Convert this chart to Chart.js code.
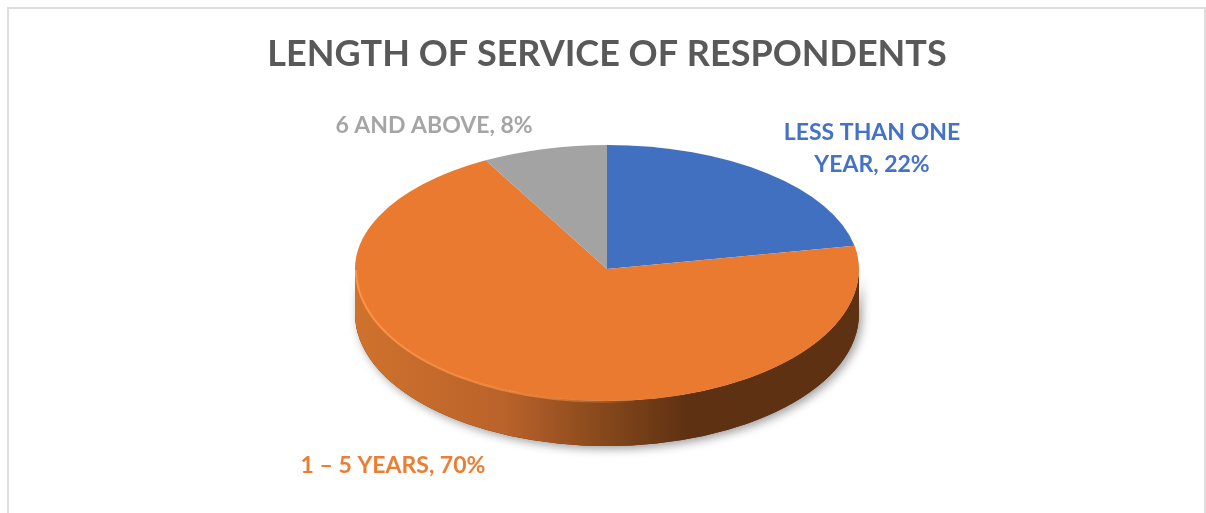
<!DOCTYPE html>
<html>
<head>
<meta charset="utf-8">
<title>Length of service of respondents</title>
<script src="https://cdn.jsdelivr.net/npm/chart.js@4"></script>
<style>
  html, body { margin: 0; background: #fff; overflow: hidden; }
  #wrap { position: relative; width: 1206px; height: 513px; overflow: hidden; }
  #frame { position: absolute; left: 7px; top: 7px; width: 1199px; height: 540px; border: 2px solid #dedede; box-sizing: border-box; }
  #pie { position: absolute; left: 0; top: 0; }
</style>
</head>
<body>
<div id="wrap">
  <div id="frame"></div>
  <canvas id="pie" width="1206" height="513"></canvas>
</div>
<script>
const chartTitle = 'LENGTH OF SERVICE OF RESPONDENTS';
const categories = ['LESS THAN ONE YEAR', '1 – 5 YEARS', '6 AND ABOVE'];
const values = [22, 70, 8];
const colors = ['#4270c0', '#e97a2f', '#a3a3a3'];
const textColors = ['#4472c4', '#ed7d31', '#a5a5a5'];

const FONT = 'Lato, "Open Sans", sans-serif';
const RADIUS = 252;
const TOP_RY = 124;     // back half of the tilted pie looks flatter than the front
const FRONT_RY = 132;
const DEPTH = 45;
// label centres relative to pie centre
const labelPos = [[265, -136], [-214, 197], [-173, -143]];

function topFace(ctx, arc, ry, top) {
  const seam = Math.round(arc.y); // whole pixel, or the two halves show a line
  ctx.save();
  ctx.beginPath();
  ctx.rect(0, top ? 0 : seam, 1206, top ? seam : 513 - seam);
  ctx.clip();
  ctx.translate(arc.x, arc.y);
  ctx.scale(1, ry / RADIUS);
  ctx.translate(-arc.x, -arc.y);
}

function sidePath(ctx, x, y) {
  ctx.beginPath();
  ctx.ellipse(x, y, RADIUS, FRONT_RY, 0, 0, Math.PI);
  ctx.lineTo(x - RADIUS, y + DEPTH);
  ctx.ellipse(x, y + DEPTH, RADIUS, FRONT_RY, 0, Math.PI, 0, true);
  ctx.closePath();
}

const pie3d = {
  id: 'pie3d',
  beforeDatasetsDraw(chart) {
    const ctx = chart.ctx;
    const arc = chart.getDatasetMeta(0).data[0];
    const x = arc.x, y = arc.y;

    // soft shadow under the disc
    ctx.save();
    ctx.shadowColor = 'rgba(0,0,0,0.38)';
    ctx.shadowBlur = 10;
    ctx.shadowOffsetX = 3;
    ctx.shadowOffsetY = 3;
    ctx.fillStyle = '#5e3112';
    sidePath(ctx, x, y);
    ctx.fill();
    ctx.restore();

    // wall
    const g = ctx.createLinearGradient(x - RADIUS, 0, x + RADIUS, 0);
    g.addColorStop(0, '#d0722d');
    g.addColorStop(0.3, '#b9622a');
    g.addColorStop(0.5, '#84471b');
    g.addColorStop(0.66, '#5e3112');
    g.addColorStop(1, '#5e3112');
    ctx.fillStyle = g;
    sidePath(ctx, x, y);
    ctx.fill();

    topFace(ctx, arc, TOP_RY, true);
  },
  afterDatasetsDraw(chart) {
    const ctx = chart.ctx;
    const meta = chart.getDatasetMeta(0);
    const arc = meta.data[0];
    ctx.restore();

    // front half of the face, with its own squash
    topFace(ctx, arc, FRONT_RY, false);
    meta.controller.draw();
    ctx.restore();

    // bevel highlight on the left rim
    const h = ctx.createLinearGradient(arc.x - RADIUS, 0, arc.x + 30, 0);
    h.addColorStop(0, 'rgba(255,150,75,0.9)');
    h.addColorStop(0.7, 'rgba(255,150,75,0.6)');
    h.addColorStop(1, 'rgba(255,150,75,0)');
    ctx.save();
    ctx.strokeStyle = h;
    ctx.lineWidth = 2;
    ctx.beginPath();
    ctx.ellipse(arc.x, arc.y + 1, RADIUS - 1, FRONT_RY, 0, Math.PI * 0.45, Math.PI);
    ctx.stroke();
    ctx.restore();

    // data labels
    ctx.save();
    ctx.font = 'bold 23px ' + FONT;
    ctx.textAlign = 'center';
    ctx.textBaseline = 'middle';
    categories.forEach((cat, i) => {
      const words = (cat + ', ' + values[i] + '%').split(' ');
      const lines = [];
      let line = '';
      words.forEach(w => {
        const next = line ? line + ' ' + w : w;
        if (ctx.measureText(next).width > 225 && line) { lines.push(line); line = w; }
        else line = next;
      });
      lines.push(line);
      ctx.fillStyle = textColors[i];
      lines.forEach((t, n) => ctx.fillText(t, arc.x + labelPos[i][0], arc.y + labelPos[i][1] + n * 32));
    });
    ctx.restore();
  }
};

new Chart(document.getElementById('pie'), {
  type: 'pie',
  data: {
    labels: categories,
    datasets: [{
      data: values,
      backgroundColor: colors,
      borderWidth: 0,
      radius: RADIUS,
      clip: false
    }]
  },
  options: {
    responsive: false,
    animation: false,
    events: [],
    layout: { padding: { left: 8, bottom: 51.8 } },
    plugins: {
      legend: { display: false },
      tooltip: { enabled: false },
      title: {
        display: true,
        text: chartTitle,
        color: '#595959',
        font: { family: FONT, size: 36, weight: 'bold', lineHeight: 1.2 },
        padding: { top: 33, bottom: 0.6 }
      }
    }
  },
  plugins: [pie3d]
});
</script>
</body>
</html>
